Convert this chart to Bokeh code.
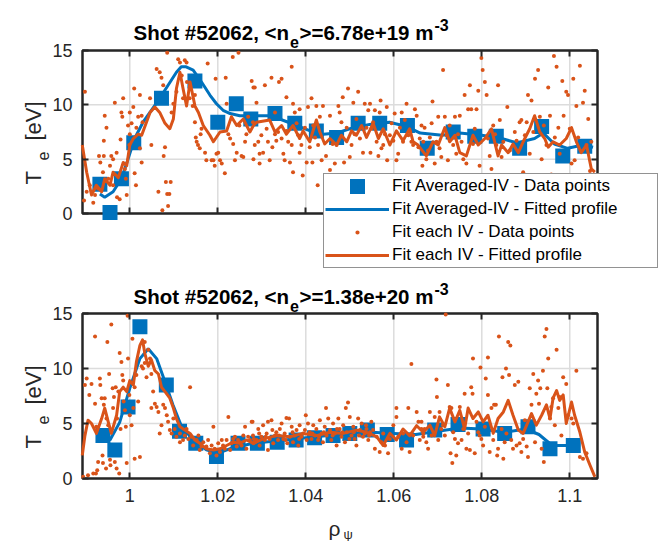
from bokeh.plotting import figure
from bokeh.models import (Range1d, FixedTicker, NumeralTickFormatter, CustomJSTickFormatter,
                          LinearAxis, Legend, LegendItem, Label)
from bokeh.layouts import column
from bokeh.embed import file_html
from bokeh.resources import INLINE

# ---------------- data ----------------
x_ticks = [1.0, 1.02, 1.04, 1.06, 1.08, 1.1]
y_ticks = [0, 5, 10, 15]
x_lim = (0.98925, 1.1063)
y_lim = (0, 15)

shot = "52062"
ne_top = "6.78e+19"
ne_bot = "1.38e+20"

legend_labels = ["Fit Averaged-IV - Data points", "Fit Averaged-IV - Fitted profile",
                 "Fit each IV - Data points", "Fit each IV - Fitted profile"]

# upper panel: averaged-IV fit points
top_avg_x = [0.9932, 0.9955, 0.9981, 1.0009, 1.0072, 1.0148, 1.0200, 1.0242, 1.0275, 1.0330,
             1.0375, 1.0424, 1.0470, 1.0519, 1.0568, 1.0631, 1.0676, 1.0735, 1.0784, 1.0833,
             1.0886, 1.0936, 1.0984, 1.1034]
top_avg_T = [2.7, 0.1, 3.2, 6.5, 10.6, 12.2, 8.4, 10.1, 8.7, 9.2,
             8.3, 7.6, 7.0, 8.3, 8.3, 8.1, 6.0, 7.5, 7.1, 7.1,
             6.0, 8.0, 5.3, 6.2]

# upper panel: averaged-IV fitted profile
top_avgfit_x = [0.9932, 0.9943, 0.9962, 0.9981, 0.9996, 1.0011, 1.0030, 1.0049, 1.0068, 1.0087,
                1.0106, 1.0117, 1.0128, 1.0144, 1.0163, 1.0182, 1.0197, 1.0212, 1.0228, 1.0250,
                1.0280, 1.0320, 1.0360, 1.0410, 1.0440, 1.0470, 1.0500, 1.0545, 1.0590, 1.0630,
                1.0660, 1.0710, 1.0750, 1.0800, 1.0845, 1.0880, 1.0920, 1.0940, 1.0965, 1.0995,
                1.1030, 1.1053]
top_avgfit_T = [1.8, 1.5, 2.0, 3.2, 5.0, 6.9, 8.4, 9.5, 10.6, 11.8,
                13.0, 13.5, 13.5, 13.2, 12.1, 10.9, 10.1, 9.5, 9.2, 9.0,
                9.0, 9.0, 8.4, 7.6, 7.3, 7.4, 7.8, 8.2, 8.4, 8.0,
                7.4, 7.2, 7.4, 7.2, 6.9, 6.5, 6.9, 7.4, 6.4, 6.0,
                6.3, 6.1]

# upper panel: per-IV fitted profile
top_eachfit = [
    (0.9892, 6.3), (0.9902, 3.8), (0.9913, 1.7), (0.9924, 2.6), (0.9936, 2.0), (0.9943, 3.2),
    (0.9955, 2.6), (0.9962, 3.8), (0.9974, 3.3), (0.9985, 4.7), (0.9993, 4.4), (1.0000, 6.3),
    (1.0008, 6.9), (1.0019, 7.3), (1.0027, 7.2), (1.0046, 9.3), (1.0057, 9.8), (1.0068, 9.3),
    (1.0080, 8.3), (1.0091, 7.8), (1.0099, 8.7), (1.0106, 11.5), (1.0114, 13.0), (1.0121, 11.5),
    (1.0129, 9.9), (1.0137, 12.1), (1.0148, 9.9), (1.0156, 9.3), (1.0167, 8.1), (1.0182, 7.2),
    (1.0190, 6.6), (1.0205, 7.5), (1.0220, 7.6), (1.0231, 8.9), (1.0243, 8.1), (1.0258, 8.7),
    (1.0273, 7.5), (1.0281, 8.1), (1.0288, 8.4), (1.0318, 8.6), (1.0330, 7.5), (1.0345, 8.1),
    (1.0356, 7.3), (1.0371, 8.1), (1.0386, 6.9), (1.0394, 7.6), (1.0409, 6.6), (1.0424, 8.6),
    (1.0432, 7.5), (1.0443, 6.4), (1.0455, 6.9), (1.0470, 6.3), (1.0481, 7.2), (1.0493, 6.6),
    (1.0504, 7.6), (1.0515, 7.2), (1.0527, 8.1), (1.0538, 7.0), (1.0553, 8.3), (1.0565, 6.9),
    (1.0576, 7.8), (1.0591, 6.3), (1.0606, 7.6), (1.0621, 6.7), (1.0636, 7.8), (1.0644, 6.6),
    (1.0655, 6.3), (1.0674, 5.3), (1.0689, 6.6), (1.0701, 6.3), (1.0716, 7.9), (1.0727, 6.6),
    (1.0739, 7.2), (1.0750, 5.6), (1.0765, 5.3), (1.0780, 7.2), (1.0792, 6.3), (1.0807, 6.9),
    (1.0822, 7.8), (1.0837, 5.3), (1.0845, 6.3), (1.0860, 5.6), (1.0871, 6.4), (1.0883, 5.6),
    (1.0894, 6.6), (1.0909, 7.8), (1.0920, 9.0), (1.0932, 7.5), (1.0943, 6.9), (1.0951, 6.1),
    (1.0962, 6.6), (1.0977, 6.3), (1.0992, 6.9), (1.1004, 7.9), (1.1015, 6.6), (1.1026, 5.6),
    (1.1038, 6.3), (1.1049, 4.1), (1.1057, 3.8),
]

# upper panel: per-IV fit points
top_each_pts = [
    (0.9898, 11.2), (0.9896, 1.2), (0.9902, 2.0), (0.9909, 2.6), (0.9917, 1.0), (0.9921, 1.7),
    (0.9928, 2.3), (0.9930, 5.3), (0.9933, 4.7), (0.9939, 3.8), (0.9943, 9.0), (0.9941, 6.7),
    (0.9941, 5.3), (0.9947, 7.9), (0.9951, 3.2), (0.9955, 4.4), (0.9958, 5.3), (0.9962, 5.0),
    (0.9962, 2.6), (0.9966, 10.2), (0.9970, 5.6), (0.9971, 1.5), (0.9977, 1.3), (0.9979, 6.8),
    (0.9981, 9.3), (0.9983, 8.9), (0.9985, 10.6), (0.9989, 4.1), (0.9991, 3.2), (0.9993, 1.7),
    (0.9996, 8.1), (0.9999, 6.3), (1.0000, 9.3), (1.0000, 7.3), (1.0004, 8.3), (1.0008, 9.8),
    (1.0010, 11.5), (1.0011, 3.7), (1.0014, 2.6), (1.0015, 7.9), (1.0019, 8.9), (1.0023, 10.9),
    (1.0027, 9.0), (1.0029, 8.4), (1.0023, 6.0), (1.0027, 4.7), (1.0046, 10.6), (1.0049, 6.3),
    (1.0061, 13.3), (1.0065, 2.0), (1.0068, 13.0), (1.0072, 12.5), (1.0074, 0.3), (1.0076, 11.8),
    (1.0077, 5.3), (1.0080, 6.1), (1.0082, 2.9), (1.0085, 1.8), (1.0087, 0.7), (1.0085, 14.8),
    (1.0090, 1.8), (1.0093, 2.9), (1.0095, 9.3), (1.0099, 10.1), (1.0106, 11.2), (1.0110, 14.2),
    (1.0114, 13.9), (1.0118, 12.7), (1.0121, 10.6), (1.0125, 14.1), (1.0129, 13.9), (1.0130, 12.1),
    (1.0136, 10.6), (1.0143, 9.9), (1.0148, 10.9), (1.0148, 8.4), (1.0150, 7.0), (1.0152, 6.6),
    (1.0155, 6.3), (1.0159, 6.0), (1.0161, 7.3), (1.0163, 7.8), (1.0171, 5.6), (1.0174, 4.9),
    (1.0177, 13.8), (1.0186, 4.9), (1.0190, 4.9), (1.0193, 4.4), (1.0195, 12.4), (1.0197, 5.5),
    (1.0201, 5.6), (1.0205, 4.9), (1.0209, 4.6), (1.0216, 3.7), (1.0218, 12.5), (1.0220, 10.1),
    (1.0224, 7.3), (1.0228, 6.9), (1.0234, 14.4), (1.0235, 6.4), (1.0239, 4.9), (1.0243, 5.6),
    (1.0247, 14.8), (1.0249, 8.1), (1.0254, 5.3), (1.0258, 5.2), (1.0262, 6.6), (1.0265, 7.3),
    (1.0269, 8.9), (1.0281, 11.6), (1.0281, 5.0),
    (1.0277, 12.2), (1.0284, 11.6), (1.0288, 10.2), (1.0280, 8.4), (1.0284, 6.3), (1.0292, 6.6),
    (1.0295, 5.5), (1.0295, 4.6), (1.0299, 7.2), (1.0303, 5.6), (1.0307, 11.8), (1.0311, 7.8),
    (1.0314, 6.6), (1.0318, 4.9), (1.0322, 12.5), (1.0324, 6.1), (1.0330, 9.3), (1.0330, 7.3),
    (1.0333, 6.7), (1.0337, 7.5), (1.0339, 12.1), (1.0345, 12.4), (1.0345, 6.9), (1.0349, 5.5),
    (1.0352, 4.9), (1.0356, 10.7), (1.0356, 7.6), (1.0360, 6.6), (1.0364, 4.7), (1.0368, 13.5),
    (1.0368, 6.3), (1.0371, 10.1), (1.0371, 3.8), (1.0375, 9.3), (1.0379, 8.3), (1.0383, 7.2),
    (1.0386, 9.6), (1.0386, 5.6), (1.0390, 6.3), (1.0393, 3.5), (1.0398, 7.9), (1.0402, 4.7),
    (1.0405, 9.8), (1.0409, 6.1), (1.0413, 10.6), (1.0415, 4.7), (1.0417, 8.1), (1.0421, 7.0),
    (1.0424, 9.9), (1.0427, 2.6), (1.0428, 6.3), (1.0432, 8.9), (1.0436, 4.9), (1.0439, 9.9),
    (1.0446, 5.3), (1.0455, 4.0), (1.0455, 9.0), (1.0461, 6.4), (1.0466, 4.6), (1.0470, 6.3),
    (1.0474, 9.9), (1.0477, 9.3), (1.0481, 8.4), (1.0484, 10.7), (1.0487, 4.7), (1.0493, 7.9),
    (1.0496, 11.5), (1.0500, 5.2), (1.0504, 6.3), (1.0508, 10.2), (1.0511, 7.3), (1.0515, 8.7),
    (1.0519, 11.2), (1.0523, 6.9), (1.0530, 5.6), (1.0534, 10.1), (1.0538, 7.9), (1.0542, 9.5),
    (1.0546, 10.1), (1.0547, 5.6), (1.0549, 7.8), (1.0553, 8.4), (1.0557, 9.5), (1.0561, 6.6),
    (1.0565, 5.3), (1.0568, 9.3), (1.0570, 10.4), (1.0572, 6.0), (1.0576, 6.3), (1.0580, 7.3),
    (1.0584, 9.8), (1.0585, 4.9), (1.0591, 7.2), (1.0595, 8.3), (1.0599, 6.7), (1.0602, 9.2),
    (1.0606, 4.9), (1.0610, 5.5), (1.0614, 7.9), (1.0618, 9.3), (1.0621, 6.6), (1.0625, 8.6),
    (1.0629, 10.1), (1.0633, 7.2), (1.0637, 7.5), (1.0640, 6.6), (1.0644, 6.3), (1.0648, 9.6),
    (1.0652, 9.0), (1.0656, 6.1), (1.0659, 6.9), (1.0663, 8.1), (1.0665, 4.4),
    (1.0667, 6.6), (1.0670, 7.9), (1.0674, 5.0), (1.0678, 5.8), (1.0682, 7.0), (1.0686, 8.3),
    (1.0688, 10.3), (1.0693, 4.6), (1.0697, 6.6), (1.0701, 8.9), (1.0704, 6.0), (1.0708, 5.2),
    (1.0712, 13.2), (1.0716, 8.9), (1.0720, 7.2), (1.0723, 4.9), (1.0727, 8.1), (1.0735, 6.3),
    (1.0739, 8.9), (1.0742, 5.5), (1.0746, 7.3), (1.0750, 9.0), (1.0754, 6.6), (1.0758, 5.0),
    (1.0761, 10.9), (1.0765, 4.6), (1.0769, 9.6), (1.0773, 11.8), (1.0776, 9.6), (1.0780, 6.4),
    (1.0784, 7.8), (1.0788, 9.6), (1.0792, 11.3), (1.0795, 4.4), (1.0799, 14.3), (1.0802, 13.2),
    (1.0807, 12.1), (1.0811, 10.9), (1.0814, 6.9), (1.0818, 5.3), (1.0822, 4.1), (1.0826, 8.1),
    (1.0830, 7.3), (1.0833, 6.3), (1.0837, 11.8), (1.0841, 8.6), (1.0845, 5.2), (1.0849, 6.6),
    (1.0858, 9.8), (1.0864, 5.8), (1.0875, 7.5), (1.0879, 6.7), (1.0886, 8.4), (1.0890, 8.6),
    (1.0894, 3.8), (1.0898, 7.2), (1.0902, 8.4), (1.0905, 10.9), (1.0909, 5.5), (1.0913, 10.4),
    (1.0917, 7.5), (1.0921, 12.4), (1.0928, 13.2), (1.0932, 8.9), (1.0936, 5.0), (1.0941, 8.1),
    (1.0947, 6.3), (1.0951, 11.6), (1.0955, 9.0), (1.0958, 3.6), (1.0964, 14.5), (1.0966, 7.0),
    (1.0970, 13.5), (1.0974, 7.9), (1.0977, 5.5), (1.0983, 12.2), (1.0986, 9.0), (1.0992, 11.2),
    (1.0996, 10.9), (1.1000, 7.8), (1.1004, 4.6), (1.1008, 12.4), (1.1011, 4.9), (1.1015, 9.9),
    (1.1019, 7.0), (1.1023, 13.6), (1.1030, 10.2), (1.1034, 11.3), (1.1038, 6.3), (1.1042, 8.7),
    (1.1046, 3.9), (1.1049, 6.6),
]

# lower panel: averaged-IV fit points
bot_avg_x = [0.9939, 0.9966, 0.9996, 1.0023, 1.0083, 1.0113, 1.0150, 1.0197, 1.0246, 1.0290,
             1.0335, 1.0378, 1.0420, 1.0462, 1.0500, 1.0540, 1.0585, 1.0629, 1.0693, 1.0746,
             1.0803, 1.0852, 1.0905, 1.0955, 1.1008]
bot_avg_T = [3.9, 2.6, 6.5, 13.8, 8.5, 4.3, 3.2, 2.0, 3.2, 3.2,
             3.3, 3.5, 3.7, 3.9, 4.1, 4.4, 4.0, 3.5, 4.4, 4.9,
             4.5, 4.1, 4.7, 2.7, 3.0]

# lower panel: averaged-IV fitted profile
bot_avgfit_x = [0.9936, 0.9955, 0.9977, 1.0000, 1.0023, 1.0042, 1.0061, 1.0080, 1.0098, 1.0117,
                1.0144, 1.0174, 1.0201, 1.0227, 1.0280, 1.0330, 1.0400, 1.0450, 1.0500, 1.0550,
                1.0600, 1.0650, 1.0700, 1.0750, 1.0800, 1.0850, 1.0900, 1.0930, 1.0960, 1.1000,
                1.1015]
bot_avgfit_T = [3.9, 3.5, 5.1, 8.2, 10.9, 11.8, 10.9, 8.8, 6.7, 4.8,
                3.5, 2.6, 2.3, 2.7, 3.2, 3.4, 3.7, 3.9, 4.1, 4.2,
                4.1, 4.0, 4.3, 4.6, 4.5, 4.2, 4.5, 4.0, 3.0, 3.0,
                3.0]

# lower panel: per-IV fitted profile
bot_eachfit = [
    (0.9892, 2.1), (0.9898, 3.9), (0.9905, 5.3), (0.9913, 5.0), (0.9924, 4.1), (0.9936, 5.45),
    (0.9943, 6.4), (0.9951, 5.15), (0.9958, 4.1), (0.9970, 5.75), (0.9977, 7.9), (0.9985, 8.3),
    (0.9993, 7.9), (1.0000, 8.9), (1.0008, 8.5), (1.0015, 10.6), (1.0023, 12.1), (1.0029, 12.6),
    (1.0034, 11.4), (1.0042, 10.2), (1.0049, 10.8), (1.0057, 9.8), (1.0065, 9.5), (1.0072, 8.3),
    (1.0080, 7.9), (1.0091, 7.3), (1.0099, 6.4), (1.0106, 5.45), (1.0114, 4.7), (1.0125, 4.4),
    (1.0137, 4.1), (1.0148, 3.5), (1.0159, 3.2), (1.0174, 2.7), (1.0190, 2.6), (1.0205, 2.7),
    (1.0220, 3.0), (1.0235, 3.3), (1.0250, 3.2), (1.0265, 3.5), (1.0281, 3.2), (1.0303, 3.6),
    (1.0333, 3.9), (1.0364, 3.8), (1.0394, 4.1), (1.0424, 3.9), (1.0455, 4.2), (1.0485, 4.1),
    (1.0515, 4.4), (1.0538, 4.2), (1.0561, 3.8), (1.0576, 3.0), (1.0591, 4.1), (1.0606, 3.5),
    (1.0621, 4.5), (1.0636, 3.9), (1.0652, 4.8), (1.0667, 4.2), (1.0682, 4.85), (1.0693, 3.9),
    (1.0704, 5.6), (1.0716, 4.7), (1.0727, 6.4), (1.0739, 5.15), (1.0750, 6.2), (1.0761, 4.5),
    (1.0769, 6.4), (1.0780, 5.45), (1.0792, 6.05), (1.0803, 5.15), (1.0814, 5.75), (1.0826, 4.1),
    (1.0837, 5.45), (1.0849, 6.05), (1.0860, 7.1), (1.0871, 5.75), (1.0883, 4.4), (1.0894, 4.1),
    (1.0902, 4.85), (1.0913, 5.9), (1.0924, 4.85), (1.0936, 5.75), (1.0947, 6.7), (1.0955, 5.45),
    (1.0962, 7.3), (1.0970, 8.0), (1.0977, 7.1), (1.0985, 7.6), (1.0992, 5.0), (1.1004, 6.95),
    (1.1011, 5.75), (1.1023, 4.2), (1.1034, 2.4), (1.1046, 1.2), (1.1057, 0.15),
]

# lower panel: per-IV fit points
bot_each_pts = [
    (0.9894, 0.15), (0.9905, 0.3), (0.9902, 9.1), (0.9898, 8.5), (0.9908, 7.6), (0.9913, 8.6),
    (0.9917, 0.45), (0.9921, 12.9), (0.9921, 6.8), (0.9923, 0.45), (0.9924, 4.7), (0.9926, 0.75),
    (0.9928, 1.5), (0.9932, 9.1), (0.9933, 8.5), (0.9936, 7.3), (0.9938, 2.1), (0.9939, 1.4),
    (0.9941, 6.7), (0.9943, 7.3), (0.9946, 0.9), (0.9947, 5.45), (0.9949, 12.4), (0.9951, 4.85),
    (0.9953, 9.5), (0.9955, 1.7), (0.9956, 1.2), (0.9958, 14.0), (0.9961, 8.2), (0.9962, 6.4),
    (0.9964, 7.4), (0.9966, 1.5), (0.9968, 8.3), (0.9970, 0.9), (0.9971, 5.45), (0.9974, 7.9),
    (0.9976, 0.45), (0.9977, 11.4), (0.9979, 4.5), (0.9981, 10.6), (0.9983, 9.4), (0.9985, 8.9),
    (0.9986, 7.0), (0.9989, 6.2), (0.9991, 4.7), (0.9993, 1.4), (0.9995, 14.8), (0.9996, 10.9),
    (0.9999, 7.6), (1.0000, 5.75), (1.0004, 4.85), (1.0006, 12.7), (1.0008, 6.4), (1.0011, 8.3),
    (1.0011, 1.8), (1.0015, 9.4), (1.0019, 7.0), (1.0023, 1.95), (1.0027, 10.2), (1.0030, 10.0),
    (1.0034, 10.5), (1.0034, 12.4), (1.0038, 9.2), (1.0042, 11.7), (1.0046, 10.9), (1.0049, 9.5),
    (1.0049, 6.4), (1.0053, 7.9), (1.0057, 6.8), (1.0061, 6.5), (1.0065, 6.05), (1.0068, 4.1),
    (1.0072, 4.85), (1.0076, 6.7), (1.0080, 6.4), (1.0084, 5.75), (1.0087, 5.15), (1.0091, 4.4),
    (1.0095, 4.1), (1.0099, 5.45), (1.0102, 4.5), (1.0106, 3.8), (1.0114, 4.1), (1.0121, 3.5),
    (1.0125, 3.9), (1.0129, 4.5), (1.0137, 8.3), (1.0140, 3.8), (1.0144, 3.0), (1.0152, 3.5),
    (1.0159, 2.6), (1.0167, 3.3), (1.0174, 2.9), (1.0182, 2.3), (1.0190, 4.7), (1.0193, 2.7),
    (1.0197, 2.1), (1.0205, 2.4), (1.0212, 3.0), (1.0220, 3.5), (1.0224, 5.6), (1.0228, 2.6),
    (1.0235, 3.6), (1.0243, 2.9), (1.0250, 3.3), (1.0258, 3.9), (1.0262, 4.7), (1.0265, 2.7),
    (1.0273, 3.5), (1.0279, 5.15),
    (1.0114, 3.3), (1.0133, 3.6), (1.0156, 3.9), (1.0163, 2.9), (1.0178, 3.5), (1.0186, 3.0),
    (1.0201, 3.2), (1.0209, 3.5), (1.0216, 2.7), (1.0231, 3.2), (1.0239, 3.8), (1.0246, 3.5),
    (1.0254, 3.0), (1.0269, 3.8), (1.0281, 3.2),
    (1.0277, 5.15), (1.0280, 3.9), (1.0284, 3.3), (1.0288, 3.5), (1.0292, 4.5), (1.0295, 3.0),
    (1.0299, 3.8), (1.0303, 4.85), (1.0307, 3.5), (1.0311, 4.1), (1.0314, 2.6), (1.0314, 5.15),
    (1.0318, 3.6), (1.0322, 5.3), (1.0326, 3.2), (1.0330, 3.9), (1.0333, 4.2), (1.0337, 3.5),
    (1.0341, 4.5), (1.0345, 5.0), (1.0349, 3.6), (1.0352, 4.1), (1.0356, 5.5), (1.0358, 3.2),
    (1.0362, 5.45), (1.0364, 3.8), (1.0368, 4.7), (1.0371, 3.3), (1.0375, 3.9), (1.0379, 4.4),
    (1.0383, 3.0), (1.0386, 4.85), (1.0390, 3.8), (1.0394, 4.1), (1.0400, 5.75), (1.0402, 3.5),
    (1.0405, 5.0), (1.0409, 4.2), (1.0413, 3.6), (1.0417, 4.85), (1.0421, 3.9), (1.0424, 4.5),
    (1.0428, 3.5), (1.0432, 5.3), (1.0436, 4.1), (1.0439, 3.3), (1.0443, 4.7), (1.0446, 6.4),
    (1.0447, 3.9), (1.0451, 5.45), (1.0455, 4.4), (1.0458, 3.5), (1.0462, 5.0), (1.0466, 4.1),
    (1.0470, 3.0), (1.0474, 5.45), (1.0477, 4.5), (1.0481, 3.8), (1.0485, 4.85), (1.0489, 3.3),
    (1.0491, 6.4), (1.0493, 4.2), (1.0496, 6.9), (1.0500, 5.6), (1.0504, 3.9), (1.0508, 4.7),
    (1.0511, 3.6), (1.0515, 3.0), (1.0519, 5.45), (1.0523, 4.4), (1.0527, 5.0), (1.0530, 3.8),
    (1.0534, 4.1), (1.0538, 4.5), (1.0542, 3.5), (1.0546, 4.2), (1.0549, 5.15), (1.0557, 2.7),
    (1.0561, 3.8), (1.0568, 2.4), (1.0572, 3.3), (1.0576, 4.1), (1.0580, 3.0), (1.0587, 2.3),
    (1.0591, 3.6), (1.0599, 4.85), (1.0606, 5.6), (1.0606, 6.4), (1.0610, 3.8), (1.0618, 2.7),
    (1.0621, 4.1), (1.0629, 3.3), (1.0633, 6.4), (1.0636, 2.4), (1.0640, 10.4), (1.0644, 3.9),
    (1.0652, 6.05), (1.0656, 5.15), (1.0659, 3.5), (1.0663, 4.5), (1.0667, 4.1),
    (1.0282, 3.6), (1.0294, 4.1), (1.0309, 3.8), (1.0324, 4.4), (1.0339, 3.9), (1.0354, 3.5),
    (1.0370, 4.2), (1.0385, 3.6), (1.0398, 4.4), (1.0415, 4.1), (1.0430, 3.8), (1.0441, 4.2),
    (1.0461, 3.9), (1.0471, 4.5), (1.0483, 4.2), (1.0499, 3.6), (1.0509, 4.2), (1.0521, 3.9),
    (1.0537, 4.85), (1.0544, 3.9), (1.0553, 4.4),
    (1.0663, 5.15), (1.0667, 3.8), (1.0670, 4.5), (1.0674, 3.3), (1.0678, 2.7), (1.0682, 6.05),
    (1.0686, 3.9), (1.0693, 5.6), (1.0697, 9.0), (1.0698, 7.4), (1.0701, 3.5), (1.0704, 6.05),
    (1.0708, 4.5), (1.0712, 4.85), (1.0716, 3.9), (1.0718, 14.9), (1.0723, 8.5), (1.0727, 6.5),
    (1.0729, 2.3), (1.0731, 6.4), (1.0733, 1.4), (1.0735, 4.2), (1.0739, 3.6), (1.0742, 2.1),
    (1.0746, 3.2), (1.0750, 6.5), (1.0754, 3.5), (1.0758, 4.5), (1.0761, 7.7), (1.0765, 2.7),
    (1.0769, 4.1), (1.0773, 2.6), (1.0776, 8.3), (1.0779, 7.7), (1.0780, 10.9), (1.0784, 2.3),
    (1.0788, 5.15), (1.0792, 4.2), (1.0795, 3.9), (1.0797, 10.1), (1.0799, 3.6), (1.0803, 3.0),
    (1.0807, 4.7), (1.0809, 9.1), (1.0814, 11.0), (1.0814, 7.6), (1.0818, 2.4), (1.0822, 6.4),
    (1.0826, 3.5), (1.0828, 6.7), (1.0832, 6.7), (1.0835, 2.1), (1.0837, 2.7), (1.0839, 12.9),
    (1.0845, 4.5), (1.0847, 9.2), (1.0849, 1.8), (1.0852, 3.3), (1.0855, 10.0), (1.0856, 4.1),
    (1.0860, 12.4), (1.0862, 9.4), (1.0865, 12.1), (1.0867, 3.5), (1.0871, 2.7), (1.0875, 8.5),
    (1.0879, 3.0), (1.0883, 8.8), (1.0886, 3.2), (1.0890, 2.4), (1.0894, 3.6), (1.0898, 5.3),
    (1.0902, 2.9), (1.0905, 1.95), (1.0909, 8.2), (1.0913, 6.7), (1.0917, 9.5), (1.0921, 3.3),
    (1.0924, 7.7), (1.0928, 8.9), (1.0930, 6.8), (1.0933, 8.2), (1.0936, 2.7), (1.0939, 9.8),
    (1.0941, 1.5), (1.0943, 12.9), (1.0947, 13.6), (1.0949, 8.2), (1.0951, 10.9), (1.0955, 5.45),
    (1.0958, 6.5), (1.0962, 7.3), (1.0966, 4.85), (1.0970, 11.7), (1.0974, 6.4), (1.0977, 7.4),
    (1.0981, 3.9), (1.0985, 9.2), (1.0992, 8.6), (1.0996, 5.75), (1.1004, 5.45), (1.1008, 5.0),
    (1.1015, 9.8), (1.1023, 1.95), (1.1030, 1.8), (1.1038, 2.3),
]

# ---------------- styling / layout ----------------
BLUE = "#0072BD"
ORANGE = "#D95319"
AXC = "#262626"
GRID = "#dcdcdc"
FONT = "Liberation Sans"
W = 658
BOX_L, BOX_R = 82, 597          # pixel columns of the axes box
LEG_ROW = 22                    # legend row height; legend markers are drawn at 0.4 * row


def unzip(pairs):
    return [a for a, _ in pairs], [b for _, b in pairs]


def style_axis(ax, ticks, show_labels):
    ax.ticker = FixedTicker(ticks=ticks)
    ax.axis_line_color = None
    ax.major_tick_in = 6
    ax.major_tick_out = 0
    ax.major_tick_line_color = AXC
    ax.major_tick_line_width = 2
    ax.minor_tick_line_color = None
    ax.major_label_text_font = FONT
    ax.major_label_text_font_size = "18px"
    ax.major_label_text_color = AXC
    ax.major_label_standoff = 10
    if not show_labels:
        ax.formatter = CustomJSTickFormatter(code="return ''")


def make_panel(height, box_top, box_bottom, show_xlabels):
    """The frame fills the whole canvas; the axes box sits at fixed pixel rows/columns."""
    xppu = (BOX_R - BOX_L) / (x_lim[1] - x_lim[0])
    yppu = (box_bottom - box_top) / (y_lim[1] - y_lim[0])
    xr = Range1d(x_lim[0] - BOX_L / xppu, x_lim[1] + (W - BOX_R) / xppu)
    yr = Range1d(y_lim[0] - (height - box_bottom) / yppu, y_lim[1] + box_top / yppu)
    p = figure(width=W, height=height, x_range=xr, y_range=yr, title=None,
               output_backend="svg", toolbar_location=None,
               min_border=0, min_border_left=0, min_border_right=0,
               min_border_top=0, min_border_bottom=0)
    p.background_fill_color = "white"
    p.border_fill_color = "white"
    p.outline_line_color = None
    p.xgrid.visible = False
    p.ygrid.visible = False

    bx = p.xaxis[0]
    style_axis(bx, x_ticks, show_xlabels)
    if show_xlabels:
        bx.formatter = NumeralTickFormatter(format="0.[00]")
    bx.fixed_location = y_lim[0]
    ly = p.yaxis[0]
    style_axis(ly, y_ticks, True)
    ly.fixed_location = x_lim[0]

    tx = LinearAxis(fixed_location=y_lim[1])
    style_axis(tx, x_ticks, False)
    p.add_layout(tx, "above")
    ry = LinearAxis(fixed_location=x_lim[1])
    style_axis(ry, y_ticks, False)
    p.add_layout(ry, "right")

    # grid lines at the tick positions, limited to the axes box
    p.segment(x0=x_ticks, y0=[y_lim[0]] * len(x_ticks), x1=x_ticks, y1=[y_lim[1]] * len(x_ticks),
              line_color=GRID, line_width=1.5)
    p.segment(x0=[x_lim[0]] * len(y_ticks), y0=y_ticks, x1=[x_lim[1]] * len(y_ticks), y1=y_ticks,
              line_color=GRID, line_width=1.5)
    # axes box
    p.quad(left=[x_lim[0]], right=[x_lim[1]], bottom=[y_lim[0]], top=[y_lim[1]],
           fill_color=None, line_color=AXC, line_width=2.5)
    return p


def draw_series(p, avg_x, avg_T, avgfit_x, avgfit_T, each_pts, eachfit):
    p.scatter(avg_x, avg_T, marker="square", size=15, fill_color=BLUE, line_color=None)
    r2 = p.line(avgfit_x, avgfit_T, line_color=BLUE, line_width=3)
    ex, eT = unzip(each_pts)
    p.scatter(ex, eT, marker="circle", size=4, fill_color=ORANGE, line_color=None)
    fx, fT = unzip(eachfit)
    r4 = p.line(fx, fT, line_color=ORANGE, line_width=3, line_join="round")
    return r2, r4


def add_text(p, txt, x, y, fs, bold=False, angle=0, color="black"):
    p.add_layout(Label(x=x, y=y, x_units="screen", y_units="screen", text=txt,
                       angle=angle, angle_units="deg", text_font=FONT, text_font_size=fs,
                       text_font_style="bold" if bold else "normal", text_color=color,
                       text_baseline="alphabetic", text_align="left"))


def add_title(p, base, ne):
    # main text, subscript e, main text, superscript -3 (baseline in screen px from bottom)
    add_text(p, "Shot #%s, <n" % shot, 133, base, "20.5px", bold=True)
    add_text(p, "e", 289.5, base - 9, "16px", bold=True)
    add_text(p, ">=%s m" % ne, 299, base, "20.5px", bold=True)
    add_text(p, "-3", 434, base + 8, "16px", bold=True)


def add_ylabel(p, y0):
    add_text(p, "T", 33, y0, "22px", angle=90, color=AXC)
    add_text(p, "e", 42, y0 + 24, "16px", angle=90, color=AXC)
    add_text(p, "[eV]", 33, y0 + 44, "22px", angle=90, color=AXC)


# ---------------- upper panel ----------------
top = make_panel(270, 50, 213, False)
line_avg, line_each = draw_series(top, top_avg_x, top_avg_T, top_avgfit_x, top_avgfit_T,
                                  top_each_pts, top_eachfit)
add_title(top, 238, ne_top)
add_ylabel(top, 86)

# legend swatches for the point series: one undrawable (NaN) point each, styled so that
# the fixed-size legend marker shows a 15 px square and a 4 px dot
nan = float("nan")
marker_px = 0.4 * LEG_ROW
sw_square = top.scatter(x=[nan], y=[nan], marker="square", size=marker_px, fill_color=BLUE,
                        line_color=BLUE, line_width=15 - marker_px, line_join="miter")
sw_dot = top.scatter(x=[nan], y=[nan], marker="circle", size=marker_px, fill_color=ORANGE,
                     line_color="white", line_width=marker_px - 4.2)

legend = Legend(items=[LegendItem(label=legend_labels[0], renderers=[sw_square]),
                       LegendItem(label=legend_labels[1], renderers=[line_avg]),
                       LegendItem(label=legend_labels[2], renderers=[sw_dot]),
                       LegendItem(label=legend_labels[3], renderers=[line_each])],
                location=(323, 2), margin=0, padding=1, spacing=1,
                glyph_width=64, glyph_height=LEG_ROW, label_height=LEG_ROW, label_width=264,
                label_standoff=3, label_text_font=FONT, label_text_font_size="17px",
                label_text_color="black", label_text_baseline="middle",
                border_line_color=AXC, border_line_width=1.5,
                background_fill_color="white", background_fill_alpha=1.0)
top.add_layout(legend)

# ---------------- lower panel ----------------
bot = make_panel(271, 43, 208, True)
draw_series(bot, bot_avg_x, bot_avg_T, bot_avgfit_x, bot_avgfit_T, bot_each_pts, bot_eachfit)
add_title(bot, 245, ne_bot)
add_ylabel(bot, 93)

add_text(bot, "ρ", 328, 13, "21px", color=AXC)
add_text(bot, "ψ", 343, 7, "13px", color=AXC)

layout = column(top, bot, spacing=0)
open("out.html", "w").write(file_html(layout, INLINE))
